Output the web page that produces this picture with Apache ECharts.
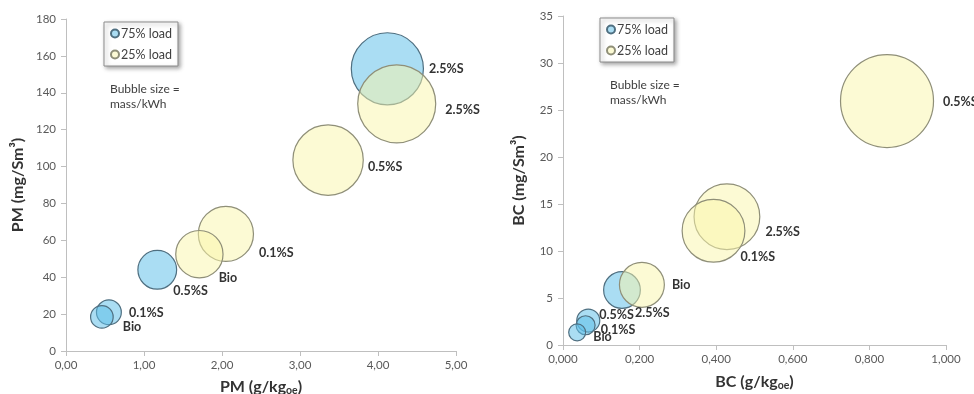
<!DOCTYPE html>
<html>
<head>
<meta charset="utf-8">
<script src="https://cdn.jsdelivr.net/npm/echarts@6/dist/echarts.min.js"></script>
<style>
  html, body { margin: 0; padding: 0; background: #fff; }
  #chart { width: 974px; height: 394px; }
</style>
</head>
<body>
<div id="chart"></div>
<script>
// Fuel labels for each bubble
const fuels75 = ['2.5%S', '0.5%S', '0.1%S', 'Bio'];
const fuels25 = ['2.5%S', '0.5%S', '0.1%S', 'Bio'];

// PM: emission factor (g/kg_oe), concentration (mg/Sm3), mass per kWh (bubble size)
const pmFactor75 = [4.12, 1.17, 0.55, 0.46];
const pmConc75   = [153.0, 44.0, 21.0, 18.5];
const pmMass75   = [0.53, 0.153, 0.063, 0.052];
const pmFactor25 = [4.24, 3.36, 2.05, 1.71];
const pmConc25   = [134.0, 103.5, 63.5, 52.5];
const pmMass25   = [0.62, 0.505, 0.31, 0.228];

// BC: emission factor (g/kg_oe), concentration (mg/Sm3), mass per kWh (bubble size)
const bcFactor75 = [0.154, 0.066, 0.059, 0.037];
const bcConc75   = [5.85, 2.6, 2.1, 1.35];
const bcMass75   = [0.028, 0.011, 0.0075, 0.006];
const bcFactor25 = [0.428, 0.846, 0.393, 0.206];
const bcConc25   = [13.65, 25.95, 12.15, 6.4];
const bcMass25   = [0.090, 0.180, 0.082, 0.042];

// Axis tick settings
const pmXMax = 5, pmXStep = 1, pmYMax = 180, pmYStep = 20;
const bcXMax = 1, bcXStep = 0.2, bcYMax = 35, bcYStep = 5;

// Label nudges [dx, dy] relative to the default right-hand placement
const pmNudge75 = [[0, 0], [-9, 21], [2, 1], [4, 10]];
const pmNudge25 = [[4, 6], [-1, 7], [0, 19], [-10, 24]];
const bcNudge75 = [[-11, 23], [-6, -6], [0, 5], [2, 5]];
const bcNudge25 = [[0, 15], [4, 1], [-10, 26], [2, 0]];

const FONT = 'Lato, "Open Sans", sans-serif';
const BLUE = 'rgba(92, 190, 232, 0.52)';
const BLUE_EDGE = '#4f6f80';
const YELLOW = 'rgba(250, 246, 170, 0.5)';
const YELLOW_EDGE = '#8f8f78';

function rows(xs, ys, ms, names) {
  return xs.map((x, i) => ({ value: [x, ys[i], ms[i]], name: names[i] }));
}

function bubbleSeries(name, xi, data, maxMass, maxDiam, nudges, fill, edge) {
  return {
    type: 'scatter',
    name: name,
    xAxisIndex: xi,
    yAxisIndex: xi,
    symbol: 'circle',
    symbolSize: v => maxDiam * Math.sqrt(v[2] / maxMass),
    data: data.map((d, i) => Object.assign({}, d, {
      label: { offset: nudges[i] }
    })),
    itemStyle: { color: fill, borderColor: edge, borderWidth: 1.2, opacity: 1 },
    label: {
      show: true,
      position: 'right',
      distance: 5,
      formatter: p => p.name,
      color: '#333',
      fontFamily: FONT,
      fontWeight: 'bold',
      fontSize: 12.5
    },
    emphasis: { disabled: true },
    z: 2
  };
}

const pmMaxMass = Math.max(...pmMass75, ...pmMass25);
const bcMaxMass = Math.max(...bcMass75, ...bcMass25);

const tickLabel = { color: '#595959', fontFamily: FONT, fontSize: 11.5 };
const axisLine = { show: true, lineStyle: { color: '#bfbfbf', width: 1 } };
const axisTick = { show: true, inside: false, length: 5, lineStyle: { color: '#bfbfbf' } };
const nameStyle = {
  color: '#333', fontFamily: FONT, fontWeight: 'bold', fontSize: 16,
  rich: {
    t: { color: '#333', fontFamily: FONT, fontWeight: 'bold', fontSize: 16 },
    sub: { color: '#333', fontFamily: FONT, fontWeight: 'bold', fontSize: 10.5, padding: [8, 0, 0, 0] }
  }
};

function xAxis(gi, max, step, decimals, title, gap) {
  return {
    type: 'value', gridIndex: gi, min: 0, max: max, interval: step,
    axisLine: axisLine, axisTick: axisTick, splitLine: { show: false },
    axisLabel: Object.assign({ margin: 8, formatter: v => v.toFixed(decimals).replace('.', ',') }, tickLabel),
    name: title, nameLocation: 'middle', nameGap: gap, nameTextStyle: nameStyle
  };
}
function yAxis(gi, max, step, title, gap) {
  return {
    type: 'value', gridIndex: gi, min: 0, max: max, interval: step,
    axisLine: axisLine, axisTick: axisTick, splitLine: { show: false },
    axisLabel: Object.assign({ margin: 10 }, tickLabel),
    name: title, nameLocation: 'middle', nameRotate: 90, nameGap: gap, nameTextStyle: nameStyle
  };
}

function legendBox(left, top) {
  return {
    left: left, top: top, orient: 'vertical',
    data: ['75% load', '25% load'],
    icon: 'circle', itemWidth: 8, itemHeight: 8, itemGap: 8,
    padding: [5, 6, 5, 6],
    backgroundColor: '#fff',
    borderColor: '#8c8c8c', borderWidth: 1,
    shadowColor: 'rgba(0,0,0,0.35)', shadowBlur: 4, shadowOffsetX: 2, shadowOffsetY: 2,
    textStyle: { color: '#404040', fontFamily: FONT, fontSize: 12.5, padding: [0, 0, 0, -3] },
    selectedMode: false
  };
}

function note(x, y) {
  return {
    type: 'text', left: x, top: y,
    style: {
      text: 'Bubble size =\nmass/kWh', fill: '#404040',
      font: '12px ' + FONT, lineHeight: 15
    }
  };
}

const option = {
  animation: false,
  backgroundColor: '#ffffff',
  grid: [
    { left: 66, top: 19, width: 390, height: 332, outerBoundsMode: 'none', containLabel: false },
    { left: 563, top: 16, width: 383, height: 329, outerBoundsMode: 'none', containLabel: false }
  ],
  xAxis: [
    xAxis(0, pmXMax, pmXStep, 2, '{t|PM (g/kg}{sub|oe}{t|)}', 26),
    xAxis(1, bcXMax, bcXStep, 3, '{t|BC (g/kg}{sub|oe}{t|)}', 27)
  ],
  yAxis: [
    yAxis(0, pmYMax, pmYStep, 'PM (mg/Sm³)', 40),
    yAxis(1, bcYMax, bcYStep, 'BC (mg/Sm³)', 36)
  ],
  legend: [legendBox(104, 22), legendBox(600, 18)],
  graphic: [note(110, 82), note(610, 78)],
  series: [
    bubbleSeries('75% load', 0, rows(pmFactor75, pmConc75, pmMass75, fuels75), pmMaxMass, 78, pmNudge75, BLUE, BLUE_EDGE),
    bubbleSeries('25% load', 0, rows(pmFactor25, pmConc25, pmMass25, fuels25), pmMaxMass, 78, pmNudge25, YELLOW, YELLOW_EDGE),
    bubbleSeries('75% load', 1, rows(bcFactor75, bcConc75, bcMass75, fuels75), bcMaxMass, 93, bcNudge75, BLUE, BLUE_EDGE),
    bubbleSeries('25% load', 1, rows(bcFactor25, bcConc25, bcMass25, fuels25), bcMaxMass, 93, bcNudge25, YELLOW, YELLOW_EDGE)
  ]
};

const chart = echarts.init(document.getElementById('chart'), null, { renderer: 'canvas' });
chart.setOption(option);
</script>
</body>
</html>
